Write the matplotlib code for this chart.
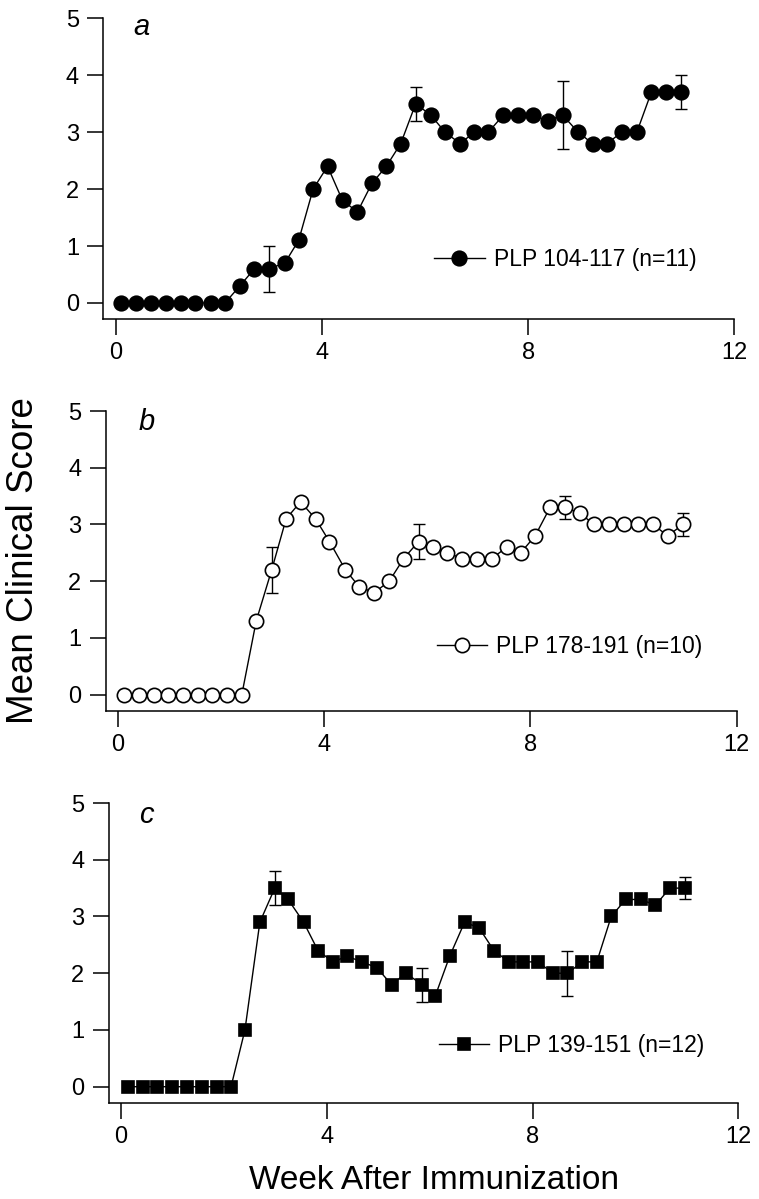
import matplotlib
matplotlib.use("Agg")
import matplotlib.pyplot as plt
import numpy as np

plt.rcParams['font.family'] = ['Liberation Sans', 'DejaVu Sans']

# ---------------- data ----------------
weeks_a = [0.10, 0.40, 0.69, 0.98, 1.26, 1.54, 1.84, 2.12, 2.41, 2.69, 2.97, 3.28, 3.55,
           3.83, 4.11, 4.40, 4.69, 4.97, 5.25, 5.53, 5.82, 6.11, 6.39, 6.68, 6.96, 7.23,
           7.52, 7.81, 8.09, 8.38, 8.67, 8.97, 9.25, 9.53, 9.82, 10.11, 10.39, 10.68, 10.96]
score_a = [0, 0, 0, 0, 0, 0, 0, 0, 0.3, 0.6, 0.6, 0.7, 1.1,
           2.0, 2.4, 1.8, 1.6, 2.1, 2.4, 2.8, 3.5, 3.3, 3.0, 2.8, 3.0, 3.0,
           3.3, 3.3, 3.3, 3.2, 3.3, 3.0, 2.8, 2.8, 3.0, 3.0, 3.7, 3.7, 3.7]
err_a = [0, 0, 0, 0, 0, 0, 0, 0, 0, 0, 0.4, 0, 0,
         0, 0, 0, 0, 0, 0, 0, 0.3, 0, 0, 0, 0, 0,
         0, 0, 0, 0, 0.6, 0, 0, 0, 0, 0, 0, 0, 0.3]
label_a = "PLP 104-117 (n=11)"

weeks_b = [0.11, 0.40, 0.69, 0.97, 1.26, 1.55, 1.83, 2.12, 2.40, 2.68, 2.98, 3.26, 3.54,
           3.83, 4.10, 4.41, 4.68, 4.97, 5.26, 5.54, 5.83, 6.11, 6.39, 6.68, 6.96, 7.25,
           7.54, 7.81, 8.09, 8.38, 8.66, 8.96, 9.23, 9.52, 9.81, 10.09, 10.38, 10.66, 10.96]
score_b = [0, 0, 0, 0, 0, 0, 0, 0, 0, 1.3, 2.2, 3.1, 3.4,
           3.1, 2.7, 2.2, 1.9, 1.8, 2.0, 2.4, 2.7, 2.6, 2.5, 2.4, 2.4, 2.4,
           2.6, 2.5, 2.8, 3.3, 3.3, 3.2, 3.0, 3.0, 3.0, 3.0, 3.0, 2.8, 3.0]
err_b = [0, 0, 0, 0, 0, 0, 0, 0, 0, 0, 0.4, 0, 0,
         0, 0, 0, 0, 0, 0, 0, 0.3, 0, 0, 0, 0, 0,
         0, 0, 0, 0, 0.2, 0, 0, 0, 0, 0, 0, 0, 0.2]
label_b = "PLP 178-191 (n=10)"

weeks_c = [0.14, 0.43, 0.71, 1.00, 1.29, 1.57, 1.86, 2.14, 2.41, 2.70, 2.99, 3.25, 3.55,
           3.83, 4.12, 4.40, 4.68, 4.97, 5.26, 5.54, 5.85, 6.11, 6.39, 6.68, 6.96, 7.25,
           7.54, 7.82, 8.11, 8.39, 8.68, 8.97, 9.25, 9.53, 9.81, 10.10, 10.39, 10.67, 10.96]
score_c = [0, 0, 0, 0, 0, 0, 0, 0, 1.0, 2.9, 3.5, 3.3, 2.9,
           2.4, 2.2, 2.3, 2.2, 2.1, 1.8, 2.0, 1.8, 1.6, 2.3, 2.9, 2.8, 2.4,
           2.2, 2.2, 2.2, 2.0, 2.0, 2.2, 2.2, 3.0, 3.3, 3.3, 3.2, 3.5, 3.5]
err_c = [0, 0, 0, 0, 0, 0, 0, 0, 0, 0, 0.3, 0, 0,
         0, 0, 0, 0, 0, 0, 0, 0.3, 0, 0, 0, 0, 0,
         0, 0, 0, 0, 0.4, 0, 0, 0, 0, 0, 0, 0, 0.2]
label_c = "PLP 139-151 (n=12)"

panel_letters = ["a", "b", "c"]
x_ticks = [0, 4, 8, 12]
y_ticks = [0, 1, 2, 3, 4, 5]

# ---------------- figure ----------------
W, H = 759, 1199
fig = plt.figure(figsize=(W / 100, H / 100), dpi=100)


def px_axes(left, right, top, bottom):
    return fig.add_axes([left / W, 1 - bottom / H, (right - left) / W, (bottom - top) / H])


axes_px = [(103.3, 734.3, 18.3, 319.3),
           (105.7, 736.7, 411.0, 711.0),
           (108.6, 738.3, 803.0, 1103.0)]

panels = [
    (weeks_a, score_a, err_a, label_a, dict(marker='o', mfc='black', ms=10.5)),
    (weeks_b, score_b, err_b, label_b, dict(marker='o', mfc='white', ms=10.3)),
    (weeks_c, score_c, err_c, label_c, dict(marker='s', mfc='black', ms=9.2)),
]
letter_pos = [(0.5, 4.85), (0.55, 4.8), (0.5, 4.78)]
legend_pos = [(6.18, 0.76), (6.18, 0.85), (6.18, 0.73)]

for (l, r, t, b), (wx, sy, ey, lab, mstyle), letter, lp, lgp in zip(
        axes_px, panels, panel_letters, letter_pos, legend_pos):
    ax = px_axes(l, r, t, b)
    wx = np.array(wx)
    sy = np.array(sy)
    ey = np.array(ey)
    m = ey > 0
    ax.errorbar(wx[m], sy[m], yerr=ey[m], fmt='none', ecolor='black', elinewidth=1.0,
                capsize=4, capthick=1.0, zorder=2)
    line, = ax.plot(wx, sy, color='black', lw=1.0, mec='black', mew=1.2, zorder=3,
                    label=lab, **mstyle)
    ax.set_xlim(-0.24, 12)
    ax.set_ylim(-0.287, 5)
    ax.set_xticks(x_ticks)
    ax.set_yticks(y_ticks)
    for s in ['top', 'right']:
        ax.spines[s].set_visible(False)
    for s in ['left', 'bottom']:
        ax.spines[s].set_linewidth(1.1)
    ax.tick_params(axis='both', direction='out', length=11.5, width=1.1,
                   labelsize=17, color='black')
    ax.tick_params(axis='x', pad=5)
    ax.tick_params(axis='y', pad=6)
    ax.patch.set_visible(False)
    ax.text(lp[0], lp[1], letter, fontsize=21, style='italic', ha='center', va='center')
    ax.legend(handles=[line], loc='center left', bbox_to_anchor=lgp,
              bbox_transform=ax.transData, frameon=False, fontsize=16.5, numpoints=1,
              handlelength=2.2, handletextpad=0.4, borderpad=0, borderaxespad=0)

fig.text(33 / W, 1 - 561 / H, "Mean Clinical Score", rotation=90, fontsize=26.5,
         ha='center', va='baseline', rotation_mode='anchor')
fig.text(434 / W, 1 - 1189 / H, "Week After Immunization", fontsize=24,
         ha='center', va='baseline')

fig.savefig("out.png", dpi=100)
